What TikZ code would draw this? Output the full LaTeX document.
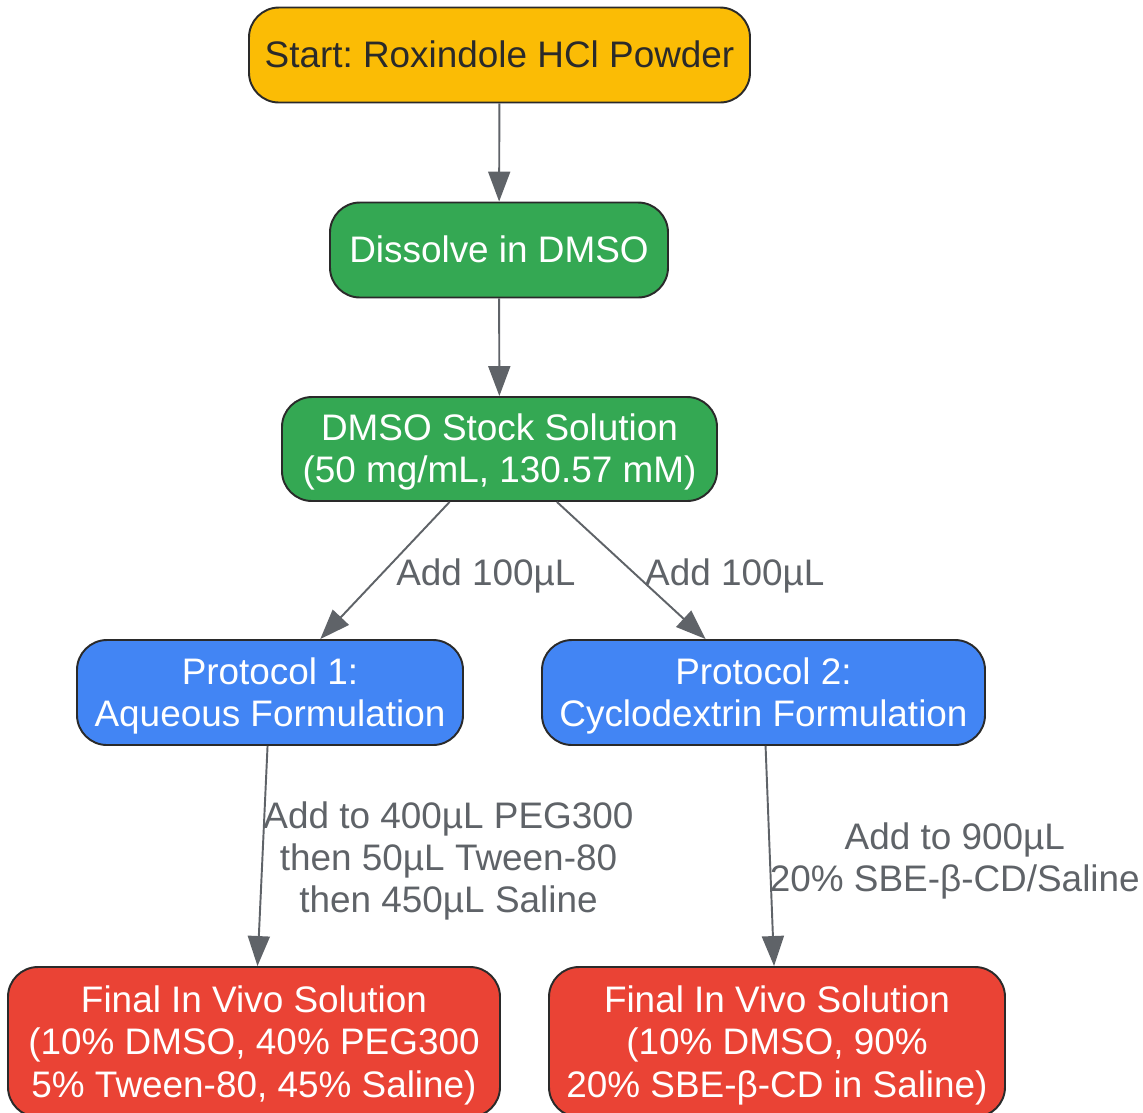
\documentclass[tikz,border=0pt]{standalone}
\usepackage{fontspec}
\setmainfont{Liberation Sans}
\usepackage[]{tikz}
\usepackage[dvipsnames]{xcolor}
\usetikzlibrary{arrows.meta}
\usetikzlibrary{positioning}
\frenchspacing
\definecolor{startyellow}{HTML}{FBBC05}
\definecolor{stepgreen}{HTML}{34A853}
\definecolor{protoblue}{HTML}{4285F4}
\definecolor{finalred}{HTML}{EA4335}
\definecolor{edgegray}{HTML}{5F6368}
\definecolor{rimdark}{HTML}{2A2A2A}
\newcommand{\ls}{\rule[-4.7pt]{0pt}{24pt}}
\tikzset{box/.style = {draw = rimdark, line width = 1.1pt, rounded corners = 0.6cm, align = center, inner sep = 0, font = \fontsize{21pt}{24pt}\selectfont, text = white},
    flow/.style = {draw = edgegray, line width = 1.1pt, -{Triangle[length = 0.6cm, width = 0.44cm]}},
    lbl/.style = {text = edgegray, align = center, font = \fontsize{21pt}{24pt}\selectfont}}

\begin{document}
\begin{tikzpicture}
        \useasboundingbox (0,0) rectangle (22.86,-22.24);
        \clip (0,0) rectangle (22.86,-22.24);
        \node[box, fill = startyellow, text = rimdark, minimum width = 10.02cm, minimum height = 1.9cm] (start) at (9.99,-1.10) {\ls Start: Roxindole HCl Powder\ls};
        \node[box, fill = stepgreen, minimum width = 6.76cm, minimum height = 1.9cm] (dissolve) at (9.98,-5.0) {\ls Dissolve in DMSO\ls};
        \node[box, fill = stepgreen, minimum width = 8.7cm, minimum height = 2.08cm] (stock) at (9.99,-8.98) {\ls DMSO Stock Solution\\(50 mg/mL, 130.57 mM)\ls};
        \node[box, fill = protoblue, minimum width = 7.72cm, minimum height = 2.1cm] (protoA) at (5.40,-13.85) {\ls Protocol 1:\\Aqueous Formulation\ls};
        \node[box, fill = protoblue, minimum width = 8.86cm, minimum height = 2.1cm] (protoB) at (15.27,-13.85) {\ls Protocol 2:\\Cyclodextrin Formulation\ls};
        \node[box, fill = finalred, minimum width = 9.84cm, minimum height = 3.0cm] (finalA) at (5.08,-20.84) {\ls Final In Vivo Solution\\(10\% DMSO, 40\% PEG300\\5\% Tween-80, 45\% Saline)\ls};
        \node[box, fill = finalred, minimum width = 9.12cm, minimum height = 3.0cm] (finalB) at (15.54,-20.84) {\ls Final In Vivo Solution\\(10\% DMSO, 90\%\\20\% SBE-β-CD in Saline)\ls};
        \draw[flow] (start) -- (dissolve);
        \draw[flow] (dissolve) -- (stock);
        \draw[flow] (stock) -- node[lbl, xshift = 2.02cm, yshift = -0.11cm] {Add 100µL} (protoA);
        \draw[flow] (stock) -- node[lbl, xshift = 2.07cm, yshift = -0.11cm] {Add 100µL} (protoB);
        \draw[flow] (protoA) -- node[lbl, xshift = 3.72cm, yshift = -0.1cm] {Add to 400µL PEG300\\then 50µL Tween-80\\then 450µL Saline} (finalA);
        \draw[flow] (protoB) -- node[lbl, xshift = 3.7cm, yshift = -0.1cm] {Add to 900µL\\20\% SBE-β-CD/Saline} (finalB);
    \end{tikzpicture}
\end{document}
